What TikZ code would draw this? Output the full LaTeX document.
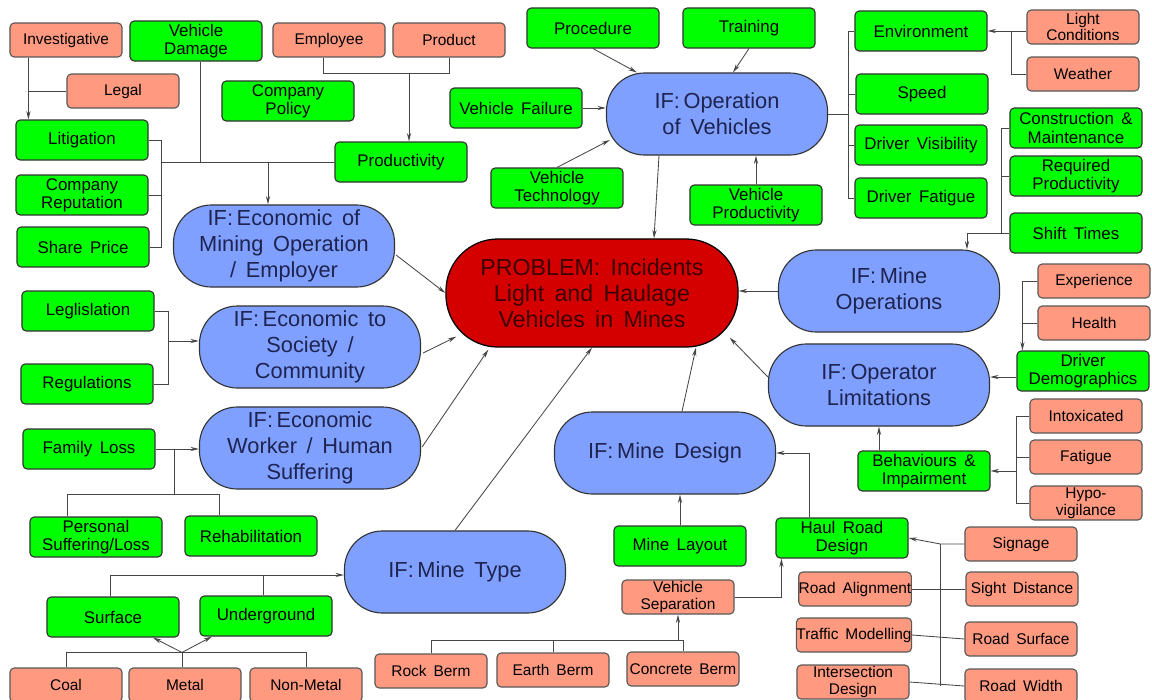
\documentclass[tikz,border=0pt]{standalone}
\usepackage{fontspec}
\setmainfont{Liberation Sans}[WordSpace=1.6]
\usetikzlibrary{arrows.meta,calc}
\definecolor{boxgreen}{RGB}{0,255,0}
\definecolor{boxsalmon}{RGB}{255,153,128}
\definecolor{ifblue}{RGB}{127,160,255}
\definecolor{probred}{RGB}{212,0,0}
\definecolor{ifink}{RGB}{30,35,80}
\definecolor{probink}{RGB}{60,0,0}
\definecolor{lncol}{RGB}{70,70,70}

\begin{document}
\begin{tikzpicture}[x=0.025cm,y=-0.025cm,
  gbox/.style={draw=black!80,line width=0.8pt,fill=boxgreen,rounded corners=3pt,minimum width=3.3cm,minimum height=1cm,inner sep=0pt,align=center,font=\fontsize{12}{13}\selectfont},
  sbox/.style={draw=black!65,line width=0.8pt,fill=boxsalmon,rounded corners=3pt,minimum width=2.8cm,minimum height=0.85cm,inner sep=0pt,align=center,font=\fontsize{11}{12}\selectfont},
  ifbox/.style={draw=black!80,line width=0.8pt,fill=ifblue,rounded corners=0.95cm,minimum width=5.525cm,minimum height=2.05cm,inner sep=0pt,align=center,text=ifink,font=\fontsize{15.5}{18.5}\selectfont},
  probbox/.style={draw=black,line width=0.9pt,fill=probred,rounded corners=1.3cm,minimum width=7.3cm,minimum height=2.7cm,inner sep=0pt,align=center,text=probink,font=\fontsize{16.5}{18.5}\selectfont},
  ln/.style={draw=lncol,line width=0.6pt},
  arr/.style={ln,-{Stealth[length=6pt,width=3pt]}}]
  \useasboundingbox (0,0) rectangle (1152,699);

  % top left: economic of mining operation
  \node[sbox] (inv) at (66,40) {Investigative};
  \node[gbox] (vdam) at (196,41) {Vehicle\\Damage};
  \node[sbox] (empl) at (329,40) {Employee};
  \node[sbox] (prod) at (449,40) {Product};
  \node[sbox] (legal) at (123,91) {Legal};
  \node[gbox] (cpol) at (288,101) {Company\\Policy};
  \node[gbox] (litig) at (82,140) {Litigation};
  \node[gbox] (crep) at (82,195) {Company\\Reputation};
  \node[gbox] (share) at (83,247) {Share Price};
  \node[gbox] (produc) at (401,162) {Productivity};
  \node[ifbox] (ecomine) at (284,246) {IF:\,Economic of\\Mining Operation\\/ Employer};

  % left: society and worker
  \node[gbox] (legis) at (88,311) {Leglislation};
  \node[gbox] (regul) at (87,384) {Regulations};
  \node[ifbox] (ecosoc) at (310,347) {IF:\,Economic to\\Society /\\Community};
  \node[gbox] (famloss) at (89,449) {Family Loss};
  \node[ifbox] (ecowork) at (310,448) {IF:\,Economic\\Worker / Human\\Suffering};
  \node[gbox] (pers) at (96,537) {Personal\\Suffering/Loss};
  \node[gbox] (rehab) at (251,536) {Rehabilitation};

  % bottom left: mine type
  \node[ifbox] (mtype) at (455,572) {IF:\,Mine Type};
  \node[gbox] (surf) at (113,617) {Surface};
  \node[gbox] (under) at (266,616) {Underground};
  \node[sbox] (coal) at (66,685) {Coal};
  \node[sbox] (metal) at (185,685) {Metal};
  \node[sbox] (nonmet) at (306,685) {Non-Metal};

  % centre
  \node[probbox] (problem) at (592,293) {PROBLEM: Incidents\\Light and Haulage\\Vehicles in Mines};

  % top: operation of vehicles
  \node[gbox] (proc) at (593,28) {Procedure};
  \node[gbox] (train) at (749,28) {Training};
  \node[gbox] (vfail) at (516,108) {Vehicle Failure};
  \node[gbox] (vtech) at (557,188) {Vehicle\\Technology};
  \node[gbox] (vprod) at (756,205) {Vehicle\\Productivity};
  \node[ifbox] (opveh) at (717,114) {IF:\,Operation\\of Vehicles};
  \node[gbox] (env) at (921,31) {Environment};
  \node[sbox] (light) at (1083,27) {Light\\Conditions};
  \node[sbox] (weather) at (1083,74) {Weather};
  \node[gbox] (speed) at (922,94) {Speed};
  \node[gbox] (dvis) at (921,145) {Driver Visibility};
  \node[gbox] (dfat) at (921,198) {Driver Fatigue};

  % right: mine operations and operator
  \node[gbox] (constr) at (1076,128) {Construction \&\\Maintenance};
  \node[gbox] (reqprod) at (1076,176) {Required\\Productivity};
  \node[gbox] (shift) at (1076,233) {Shift Times};
  \node[ifbox] (mineops) at (889,291) {IF:\,Mine\\Operations};
  \node[sbox] (exper) at (1094,281) {Experience};
  \node[sbox] (health) at (1094,323) {Health};
  \node[gbox] (ddemo) at (1083,371) {Driver\\Demographics};
  \node[ifbox] (oplim) at (879,385) {IF:\,Operator\\Limitations};
  \node[sbox] (intox) at (1086,416) {Intoxicated};
  \node[sbox] (fatig) at (1086,457) {Fatigue};
  \node[sbox] (hypo) at (1086,503) {Hypo-\\vigilance};
  \node[gbox] (behav) at (924,471) {Behaviours \&\\Impairment};

  % bottom right: mine design
  \node[ifbox] (mdesign) at (665,453) {IF:\,Mine Design};
  \node[gbox] (mlayout) at (680,546) {Mine Layout};
  \node[gbox] (haul) at (842,538) {Haul Road\\Design};
  \node[sbox] (sign) at (1021,544) {Signage};
  \node[sbox] (sight) at (1022,589) {Sight Distance};
  \node[sbox] (rsurf) at (1021,639) {Road Surface};
  \node[sbox] (rwidth) at (1021,686) {Road Width};
  \node[sbox] (ralign) at (855,589) {Road Alignment};
  \node[sbox] (traffic) at (854,635) {Traffic Modelling};
  \node[sbox] (isect) at (853,682) {Intersection\\Design};
  \node[sbox] (vsep) at (678,597) {Vehicle\\Separation};
  \node[sbox] (rock) at (431,671) {Rock Berm};
  \node[sbox] (earth) at (553,670) {Earth Berm};
  \node[sbox] (concr) at (683,669) {Concrete Berm};

  % links economic of mining operation
  \coordinate (jinv) at ($(inv.south west)+(19,0)$);
  \draw[arr] (jinv) -- (jinv |- litig.north);
  \draw[ln] (legal.west) -- (legal.west -| jinv);
  \coordinate (bx) at ($(litig.east)+(13,0)$);
  \draw[ln] (litig.east) -| (bx |- share.east) -- (share.east);
  \draw[ln] (crep.east) -- (crep.east -| bx);
  \draw[ln] (produc.west) -- (produc.west -| bx);
  \draw[ln] ($(vdam.south)+(4,0)$) -- ($(vdam.south |- produc.west)+(4,0)$);
  \coordinate (tmine) at ($(ecomine.north)+(-16,0)$);
  \draw[arr] (tmine |- produc.west) -- (tmine);
  \coordinate (jep) at ($(empl.south)+(-6,16)$);
  \coordinate (tprod) at ($(produc.north)+(8,0)$);
  \draw[ln] ($(empl.south)+(-6,0)$) -- (jep) -| (prod.south);
  \draw[arr] (tprod |- jep) -- (tprod);

  % links operation of vehicles
  \draw[arr] (proc.south) -- ($(opveh.north west)+(31,0)$);
  \draw[arr] (train.south) -- ($(opveh.north)+(16,0)$);
  \draw[arr] (vfail.east) -- (vfail.east -| opveh.west);
  \draw[arr] (vtech.north) -- ($(opveh.west)+(4,26)$);
  \draw[arr] (vprod.north) -- (vprod.north |- opveh.south);
  \draw[arr] ($(opveh.south)+(-58,0)$) -- ($(problem.north)+(62,0)$);
  \coordinate (bop) at ($(opveh.east)+(20,0)$);
  \draw[ln] (opveh.east) -- (bop);
  \draw[ln] (env.west) -| (bop |- dfat.west) -- (dfat.west);
  \draw[ln] (speed.west) -- (speed.west -| bop);
  \draw[ln] (dvis.west) -- (dvis.west -| bop);
  \coordinate (blw) at ($(weather.west)+(-15,0)$);
  \draw[arr] (env.east -| light.west) -- (env.east);
  \draw[ln] (weather.west) -| (blw |- env.east);

  % links mine operations
  \coordinate (bcs) at ($(constr.west)+(-8,0)$);
  \coordinate (tops) at ($(mineops.north)+(78,0)$);
  \draw[ln] (constr.west) -| (bcs |- shift.west) -- (shift.west);
  \draw[ln] (reqprod.west) -- (reqprod.west -| bcs);
  \draw[arr] (bcs |- shift.west) -| (tops);
  \draw[arr] (mineops.west) -- (mineops.west -| problem.east);

  % links operator limitations
  \coordinate (beh) at ($(exper.west)+(-15,0)$);
  \draw[ln] (exper.west) -- (beh);
  \draw[ln] (health.west) -- (health.west -| beh);
  \draw[arr] (beh) -- (beh |- ddemo.north);
  \draw[arr] ($(ddemo.west)+(0,6)$) -- ($(ddemo.west -| oplim.east)+(0,6)$);
  \draw[arr] ($(oplim.west)+(0,-8)$) -- ($(problem.south east)+(-9,-10)$);
  \draw[arr] (behav.north -| oplim.south) -- (oplim.south);
  \coordinate (bif) at ($(intox.west)+(-13,0)$);
  \draw[ln] (intox.west) -| (bif |- hypo.west) -- (hypo.west);
  \draw[ln] (fatig.west) -- (fatig.west -| bif);
  \draw[arr] (bif |- behav.east) -- (behav.east);

  % links mine design
  \draw[arr] ($(mdesign.north)+(17,0)$) -- ($(problem.south)+(104,0)$);
  \draw[arr] ($(haul.north)+(-33,0)$) |- (mdesign.east);
  \draw[arr] (mlayout.north) -- (mlayout.north |- mdesign.south);
  \draw[arr] (vsep.east) -| ($(haul.south west)+(6,0)$);
  \coordinate (bb) at ($(vsep.south)+(0,26)$);
  \draw[ln] (rock.north) |- (concr.north |- bb) -- (concr.north);
  \draw[ln] (earth.north) -- (earth.north |- bb);
  \draw[arr] (bb) -- (vsep.south);
  \coordinate (bhr) at ($(sign.west)+(-24,0)$);
  \draw[arr] (sign.west) -- (bhr) -- (haul.east);
  \draw[ln] (bhr) -- (bhr |- rwidth.west);
  \draw[ln] (ralign.east) -- (sight.west);
  \draw[ln] (traffic.east) -- (rsurf.west);
  \draw[ln] (isect.east) -- (rwidth.west);

  % links mine type
  \draw[arr] ($(surf.north)+(-3,0)$) |- ($(mtype.west)+(0,3)$);
  \draw[ln] ($(under.north)+(-3,0)$) -- ($(under.north |- mtype.west)+(-3,3)$);
  \coordinate (bcm) at ($(metal.north)+(-3,-15)$);
  \draw[ln] (coal.north) |- (nonmet.north |- bcm) -- (nonmet.north);
  \draw[ln] (metal.north -| bcm) -- (bcm);
  \draw[arr] (bcm) -- ($(surf.south)+(40,0)$);
  \draw[arr] (bcm) -- ($(under.south)+(-54,0)$);

  % links worker and society
  \draw[arr] (famloss.east) -- (famloss.east -| ecowork.west);
  \coordinate (bfl) at ($(famloss.east)+(19,0)$);
  \coordinate (bpl) at ($(pers.north)+(-29,-22)$);
  \coordinate (bre) at ($(rehab.north)+(-32,0)$);
  \draw[ln] (bpl |- pers.north) -- (bpl) -| (bre);
  \draw[ln] (bfl) -- (bfl |- bpl);
  \coordinate (blr) at ($(legis.east)+(14,0)$);
  \draw[ln] (legis.east) -| (blr |- regul.east) -- (regul.east);
  \draw[arr] ($(blr |- ecosoc.west)+(0,-6)$) -- ($(ecosoc.west)+(0,-6)$);

  % links into problem
  \draw[arr] ($(ecomine.east)+(1,9)$) -- (problem.west);
  \draw[arr] ($(ecosoc.east)+(2,6)$) -- ($(problem.south west)+(11,-11)$);
  \draw[arr] ($(ecowork.east)+(1,-1)$) -- ($(problem.south west)+(43,2)$);
  \draw[arr] (mtype.north) -- (problem.south);
\end{tikzpicture}
\end{document}
